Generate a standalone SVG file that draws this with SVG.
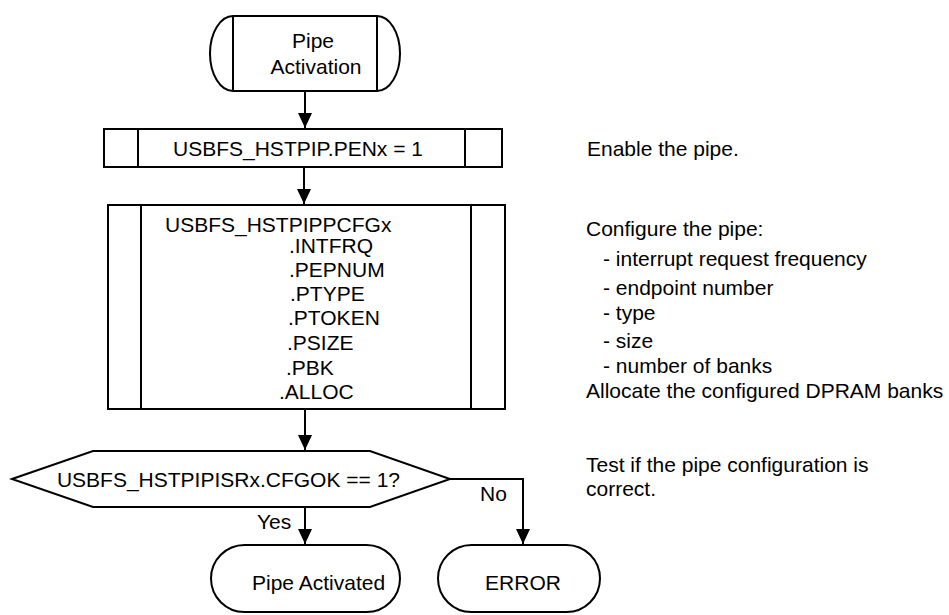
<svg xmlns="http://www.w3.org/2000/svg" width="949" height="615" viewBox="0 0 949 615">
<defs>
<marker id="arr" markerUnits="userSpaceOnUse" markerWidth="16" markerHeight="16" viewBox="0 0 16 16" refX="15" refY="8" orient="auto">
<path d="M0,1 L15,8 L0,15 Z" fill="#000"/>
</marker>
<style>
.s{fill:#fff;stroke:#000;stroke-width:2}
.l{fill:none;stroke:#000;stroke-width:2}
text{font-family:"Liberation Sans",Arial,sans-serif;font-size:21px;fill:#000}
.c{text-anchor:middle}
</style>
</defs>
<g id="connectors">
<line class="l" x1="305" y1="91" x2="305" y2="128" marker-end="url(#arr)"/>
<line class="l" x1="304" y1="167" x2="304" y2="204" marker-end="url(#arr)"/>
<line class="l" x1="305" y1="409" x2="305" y2="450" marker-end="url(#arr)"/>
<line class="l" x1="305" y1="507" x2="305" y2="544" marker-end="url(#arr)"/>
<polyline class="l" points="450,479 523,479 523,544" marker-end="url(#arr)"/>
<text x="257" y="529">Yes</text>
<text x="480" y="501">No</text>
</g>
<g id="start">
<path class="s" d="M233,16 L377,16 A23,37.5 0 0 1 377,91 L233,91 A23,37.5 0 0 1 233,16 Z"/>
<line class="l" x1="233" y1="16" x2="233" y2="91"/>
<line class="l" x1="377" y1="16" x2="377" y2="91"/>
<text class="c" x="313" y="48">Pipe</text>
<text class="c" x="316" y="74">Activation</text>
</g>
<g id="pen">
<rect class="s" x="104" y="129" width="398" height="38"/>
<line class="l" x1="138" y1="129" x2="138" y2="167"/>
<line class="l" x1="465" y1="129" x2="465" y2="167"/>
<text class="c" x="298" y="156">USBFS_HSTPIP.PENx = 1</text>
</g>
<g id="cfg">
<rect class="s" x="108" y="205" width="397" height="204"/>
<line class="l" x1="141" y1="205" x2="141" y2="409"/>
<line class="l" x1="471" y1="205" x2="471" y2="409"/>
<text x="165" y="232">USBFS_HSTPIPPCFGx</text>
<text x="289" y="253">.INTFRQ</text>
<text x="289" y="277">.PEPNUM</text>
<text x="290" y="301">.PTYPE</text>
<text x="288" y="325">.PTOKEN</text>
<text x="287" y="350">.PSIZE</text>
<text x="286" y="375">.PBK</text>
<text x="279" y="399">.ALLOC</text>
</g>
<g id="decision">
<polygon class="s" points="12,479 93,451 370,451 450,479 370,507 93,507"/>
<text x="400" y="487" text-anchor="end">USBFS_HSTPIPISRx.CFGOK == 1?</text>
</g>
<g id="activated">
<rect class="s" x="211" y="545" width="189" height="67" rx="33.5" ry="33.5"/>
<text x="252" y="590">Pipe Activated</text>
</g>
<g id="error">
<rect class="s" x="438" y="545" width="162" height="67" rx="33.5" ry="33.5"/>
<text class="c" x="523" y="590">ERROR</text>
</g>
<g id="notes">
<text x="587" y="156">Enable the pipe.</text>
<text x="586" y="236">Configure the pipe:</text>
<text x="603" y="266">- interrupt request frequency</text>
<text x="603" y="295">- endpoint number</text>
<text x="603" y="320">- type</text>
<text x="603" y="348">- size</text>
<text x="603" y="373">- number of banks</text>
<text x="586" y="398">Allocate the configured DPRAM banks</text>
<text x="586" y="472">Test if the pipe configuration is</text>
<text x="586" y="496">correct.</text>
</g>
</svg>
